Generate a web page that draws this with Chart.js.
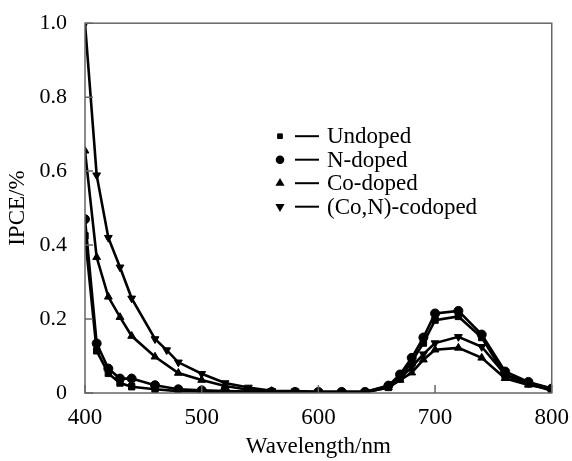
<!DOCTYPE html>
<html>
<head>
<meta charset="utf-8">
<script src="https://cdn.jsdelivr.net/npm/chart.js@4/dist/chart.umd.min.js"></script>
<style>
  html, body { margin: 0; padding: 0; background: #fff; }
  #wrap { width: 572px; height: 461px; }
</style>
</head>
<body>
<div id="wrap"><canvas id="ipce"></canvas></div>
<script>
// wavelengths (nm) and IPCE values
var xShared = [400, 410, 420, 430, 440, 460, 480, 500, 520, 540, 560, 580, 600, 620, 640, 660, 670, 680, 690, 700, 720, 740, 760, 780, 800];
var xCodoped = [400, 410, 420, 430, 440, 460, 470, 480, 500, 520, 540, 560, 580, 600, 620, 640, 660, 670, 680, 690, 700, 720, 740, 760, 780, 800];

var undoped  = [0.425, 0.114, 0.053, 0.027, 0.017, 0.010, 0.005, 0.004, 0.003, 0.002, 0.002, 0.002, 0.002, 0.002, 0.002, 0.015, 0.040, 0.085, 0.135, 0.197, 0.207, 0.150, 0.048, 0.025, 0.006];
var nDoped   = [0.470, 0.134, 0.066, 0.039, 0.039, 0.021, 0.010, 0.007, 0.005, 0.004, 0.003, 0.003, 0.003, 0.003, 0.003, 0.020, 0.050, 0.095, 0.150, 0.215, 0.222, 0.158, 0.058, 0.030, 0.012];
var coDoped  = [0.655, 0.367, 0.260, 0.205, 0.154, 0.098, 0.054, 0.035, 0.019, 0.009, 0.005, 0.003, 0.002, 0.002, 0.002, 0.015, 0.035, 0.055, 0.090, 0.117, 0.122, 0.095, 0.040, 0.022, 0.010];
var coNDoped = [1.000, 0.589, 0.420, 0.340, 0.256, 0.146, 0.116, 0.083, 0.052, 0.027, 0.015, 0.006, 0.005, 0.003, 0.003, 0.003, 0.018, 0.040, 0.070, 0.105, 0.135, 0.152, 0.125, 0.050, 0.027, 0.012];

var seriesNames = ["Undoped", "N-doped", "Co-doped", "(Co,N)-codoped"];
var markerStyles = ["rect", "circle", "triangle", "triangle"];
var markerRotation = [0, 0, 0, 180];

var xTicks = [400, 500, 600, 700, 800];
var yTicks = [0, 0.2, 0.4, 0.6, 0.8, 1.0];

function pairs(xs, ys) {
    return xs.map(function (x, i) { return { x: x, y: ys[i] }; });
}

var FONT = "'Liberation Serif', 'Times New Roman', serif";

// box around plot area + inward tick marks
var framePlugin = {
    id: "frame",
    afterDraw: function (chart) {
        var ctx = chart.ctx, a = chart.chartArea;
        var xs = chart.scales.x, ys = chart.scales.y;
        ctx.save();
        ctx.strokeStyle = "#666";
        ctx.lineWidth = 1.5;
        ctx.strokeRect(a.left, a.top, a.right - a.left, a.bottom - a.top);
        ctx.beginPath();
        xTicks.forEach(function (v) {
            var px = xs.getPixelForValue(v);
            ctx.moveTo(px, a.bottom);
            ctx.lineTo(px, a.bottom - 8);
        });
        yTicks.forEach(function (v) {
            var py = ys.getPixelForValue(v);
            ctx.moveTo(a.left, py);
            ctx.lineTo(a.left + 8, py);
        });
        ctx.stroke();
        ctx.restore();
    }
};

// legend drawn inside the plot
var legendPlugin = {
    id: "insideLegend",
    afterDraw: function (chart) {
        var ctx = chart.ctx, a = chart.chartArea;
        var x0 = a.left + 195, y0 = a.top + 113;
        ctx.save();
        ctx.fillStyle = "#000";
        ctx.strokeStyle = "#000";
        ctx.font = "23px " + FONT;
        ctx.textBaseline = "middle";
        seriesNames.forEach(function (name, i) {
            var y = y0 + i * 23.5;
            Chart.helpers.drawPoint(ctx, {
                pointStyle: markerStyles[i],
                radius: 3.3,
                rotation: markerRotation[i],
                borderWidth: 1
            }, x0, y);
            ctx.lineWidth = 2;
            ctx.beginPath();
            ctx.moveTo(x0 + 15, y);
            ctx.lineTo(x0 + 39, y);
            ctx.stroke();
            ctx.fillText(name, x0 + 47, y + 1);
        });
        ctx.restore();
    }
};

function makeSet(label, data, i) {
    return {
        label: label,
        data: data,
        borderColor: "#000",
        backgroundColor: "#000",
        borderWidth: 2.6,
        pointStyle: markerStyles[i],
        rotation: markerRotation[i],
        pointRadius: 4.5,
        pointBorderWidth: 1,
        tension: 0,
        fill: false
    };
}

var ctx = document.getElementById("ipce").getContext("2d");
var chart = new Chart(ctx, {
    type: "line",
    data: {
        datasets: [
            makeSet(seriesNames[0], pairs(xShared, undoped), 0),
            makeSet(seriesNames[1], pairs(xShared, nDoped), 1),
            makeSet(seriesNames[2], pairs(xShared, coDoped), 2),
            makeSet(seriesNames[3], pairs(xCodoped, coNDoped), 3)
        ]
    },
    options: {
        responsive: true,
        maintainAspectRatio: false,
        animation: false,
        layout: { padding: { top: 17, right: 17, left: 0, bottom: 0 } },
        plugins: {
            legend: { display: false },
            tooltip: { enabled: false }
        },
        scales: {
            x: {
                type: "linear",
                min: 400,
                max: 800,
                afterBuildTicks: function (s) { s.ticks = xTicks.map(function (v) { return { value: v }; }); },
                afterFit: function (s) { s.height = 68; },
                grid: { display: false },
                border: { display: false },
                ticks: {
                    color: "#000",
                    padding: 3,
                    maxRotation: 0,
                    font: { family: FONT, size: 23 }
                },
                title: {
                    display: true,
                    text: "Wavelength/nm",
                    color: "#000",
                    padding: { top: 0, bottom: 0 },
                    font: { family: FONT, size: 23 }
                }
            },
            y: {
                min: 0,
                max: 1,
                afterBuildTicks: function (s) { s.ticks = yTicks.map(function (v) { return { value: v }; }); },
                afterFit: function (s) { s.width = 85; },
                grid: { display: false },
                border: { display: false },
                ticks: {
                    color: "#000",
                    padding: 10,
                    font: { family: FONT, size: 22 },
                    callback: function (v) { return v === 0 ? "0" : v.toFixed(1); }
                },
                title: {
                    display: true,
                    text: "IPCE/%",
                    color: "#000",
                    padding: { top: 4, bottom: 0 },
                    font: { family: FONT, size: 23 }
                }
            }
        }
    },
    plugins: [framePlugin, legendPlugin]
});
</script>
</body>
</html>
